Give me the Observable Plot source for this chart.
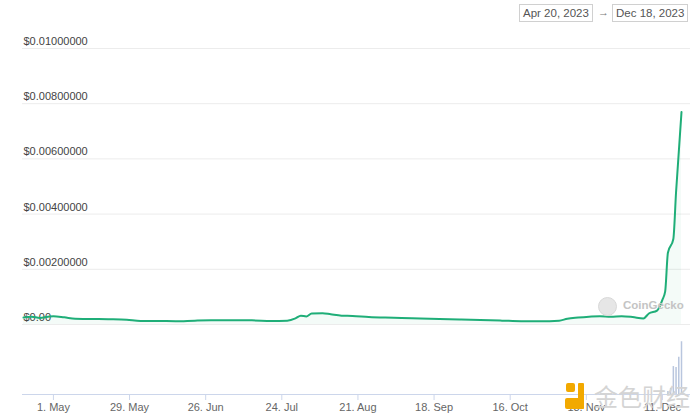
<!DOCTYPE html>
<html>
<head>
<meta charset="utf-8">
<script src="https://cdn.jsdelivr.net/npm/d3@7"></script>
<script src="https://cdn.jsdelivr.net/npm/@observablehq/plot@0.6"></script>
<style>
  html, body { margin: 0; padding: 0; background: #fff; }
  #wrap { position: relative; width: 700px; height: 420px; font-family: "Liberation Sans", Arial, sans-serif; overflow: hidden; }
  #main, #vol { position: absolute; left: 0; }
  #main { top: 0; }
  #vol { top: 334px; }
  .box { position: absolute; top: 4px; height: 18px; border: 1px solid #d0d0d0; font-size: 11.5px; color: #555; line-height: 16px; padding: 0 3px; box-sizing: border-box; white-space: nowrap; }
  .arrow { position: absolute; top: 4px; font-size: 11px; color: #777; line-height: 17px; }
  .wm { position: absolute; white-space: nowrap; }
</style>
</head>
<body>
<div id="wrap">
  <div id="main"></div>
  <div id="vol"></div>
  <div class="box" style="left:519px;">Apr 20, 2023</div>
  <div class="arrow" style="left:598px;">→</div>
  <div class="box" style="left:612px;">Dec 18, 2023</div>
  <div class="wm" style="left:598px;top:297px;width:17px;height:17px;border-radius:50%;background:#e6e6e6;border:1px solid #d8d8d8;"></div>
  <div class="wm" style="left:623px;top:299px;font-size:11.5px;font-weight:bold;color:#c4c4c4;">CoinGecko</div>
  <div class="wm" style="left:566px;top:383px;width:9px;height:9px;background:#f2a900;border-radius:2px;"></div>
  <div class="wm" style="left:578px;top:383px;width:6px;height:26px;background:#f2a900;border-radius:1px;"></div>
  <div class="wm" style="left:565px;top:398px;width:19px;height:11px;background:#f2a900;border-radius:2px;"></div>
  <div class="wm" style="left:594px;top:382px;font-size:24px;line-height:28px;color:#d4d4d4;font-family:'Noto Sans CJK SC',sans-serif;">金色财经</div>
</div>
<script>
const dates = [
  "2023-04-20","2023-04-23","2023-04-26","2023-04-29","2023-05-01","2023-05-05","2023-05-09",
  "2023-05-15","2023-05-22","2023-05-28","2023-06-02","2023-06-08","2023-06-15","2023-06-22",
  "2023-06-28","2023-07-05","2023-07-13","2023-07-20","2023-07-26","2023-07-29","2023-07-31",
  "2023-08-02","2023-08-04","2023-08-08","2023-08-11","2023-08-15","2023-08-19","2023-08-25",
  "2023-08-31","2023-09-06","2023-09-13","2023-09-20","2023-09-28","2023-10-05","2023-10-13",
  "2023-10-20","2023-10-27","2023-11-03","2023-11-06","2023-11-10","2023-11-14","2023-11-18",
  "2023-11-22","2023-11-26","2023-11-30","2023-12-04","2023-12-06","2023-12-09","2023-12-11",
  "2023-12-12","2023-12-13","2023-12-15","2023-12-16","2023-12-18"
];
const prices = [
  0.00025,0.00028,0.00024,0.00028,0.00030,0.00026,0.00021,
  0.00020,0.00019,0.00017,0.00013,0.00013,0.00012,0.00014,
  0.00015,0.00015,0.00015,0.00013,0.00014,0.00022,0.00032,
  0.00029,0.00040,0.00041,0.00037,0.00032,0.00031,0.00027,
  0.00025,0.00024,0.00022,0.00020,0.00018,0.00016,0.00014,
  0.00012,0.00012,0.00014,0.00021,0.00025,0.00028,0.00030,
  0.00028,0.00030,0.00027,0.00022,0.00040,0.00050,0.00090,
  0.00120,0.00260,0.00310,0.00480,0.00770
];
const volDates = ["2023-12-13","2023-12-14","2023-12-15","2023-12-16","2023-12-17","2023-12-18"];
const volumes = [3, 6, 27, 26, 36, 51];
const yTicks = [0, 0.002, 0.004, 0.006, 0.008, 0.01];
const yTickLabels = ["$0.00","$0.00200000","$0.00400000","$0.00600000","$0.00800000","$0.01000000"];
const xTicks = ["2023-05-01","2023-05-29","2023-06-26","2023-07-24","2023-08-21","2023-09-18","2023-10-16","2023-11-13","2023-12-11"];
const xTickLabels = ["1. May","29. May","26. Jun","24. Jul","21. Aug","18. Sep","16. Oct","13. Nov","11. Dec"];

const parse = d3.utcParse("%Y-%m-%d");
const series = dates.map((d, i) => ({date: parse(d), price: prices[i]}));
const vol = volDates.map((d, i) => ({date: parse(d), volume: volumes[i]}));
const yt = yTicks.map((v, i) => ({v, label: yTickLabels[i]}));
const xt = xTicks.map(parse);
const xDomain = [parse("2023-04-20"), parse("2023-12-18")];
const xLabel = new Map(xt.map((d, i) => [+d, xTickLabels[i]]));
const yBottom = -0.0025362, yTop = 0.0117391;

const main = Plot.plot({
  width: 700, height: 420,
  marginLeft: 22, marginRight: 10, marginTop: 0, marginBottom: 26,
  style: {fontFamily: "Liberation Sans, Arial, sans-serif", fontSize: "11px", background: "transparent"},
  x: {type: "utc", domain: xDomain, range: [23, 681], axis: null},
  y: {domain: [yBottom, yTop], axis: null},
  marks: [
    Plot.ruleY(yt, {y: "v", stroke: "#ececec", strokeWidth: 1}),
    Plot.ruleY([yBottom], {stroke: "#ccd6eb", strokeWidth: 1}),
    Plot.text(yt, {x: () => xDomain[0], y: "v", text: "label", textAnchor: "start", dy: -7, fill: "#444", fontSize: 11}),
    Plot.areaY(series, {x: "date", y: "price", fill: "#22b07a", fillOpacity: 0.05}),
    Plot.lineY(series, {x: "date", y: "price", stroke: "#1fae78", strokeWidth: 2, curve: "monotone-x"}),
    Plot.axisX({ticks: xt, tickFormat: d => xLabel.get(+d), tickSize: 6, tickPadding: 3, stroke: "#ccd6eb", color: "#666", fontSize: 11, anchor: "bottom"})
  ]
});
document.getElementById("main").appendChild(main);

const volChart = Plot.plot({
  width: 700, height: 60,
  marginLeft: 22, marginRight: 10, marginTop: 0, marginBottom: 0,
  style: {background: "transparent"},
  x: {type: "utc", domain: xDomain, range: [23, 681], axis: null},
  y: {domain: [0, 58], axis: null},
  marks: [
    Plot.ruleX(vol, {x: "date", y1: 0, y2: "volume", stroke: "#b9c6de", strokeWidth: 1.5})
  ]
});
document.getElementById("vol").appendChild(volChart);
</script>
</body>
</html>
